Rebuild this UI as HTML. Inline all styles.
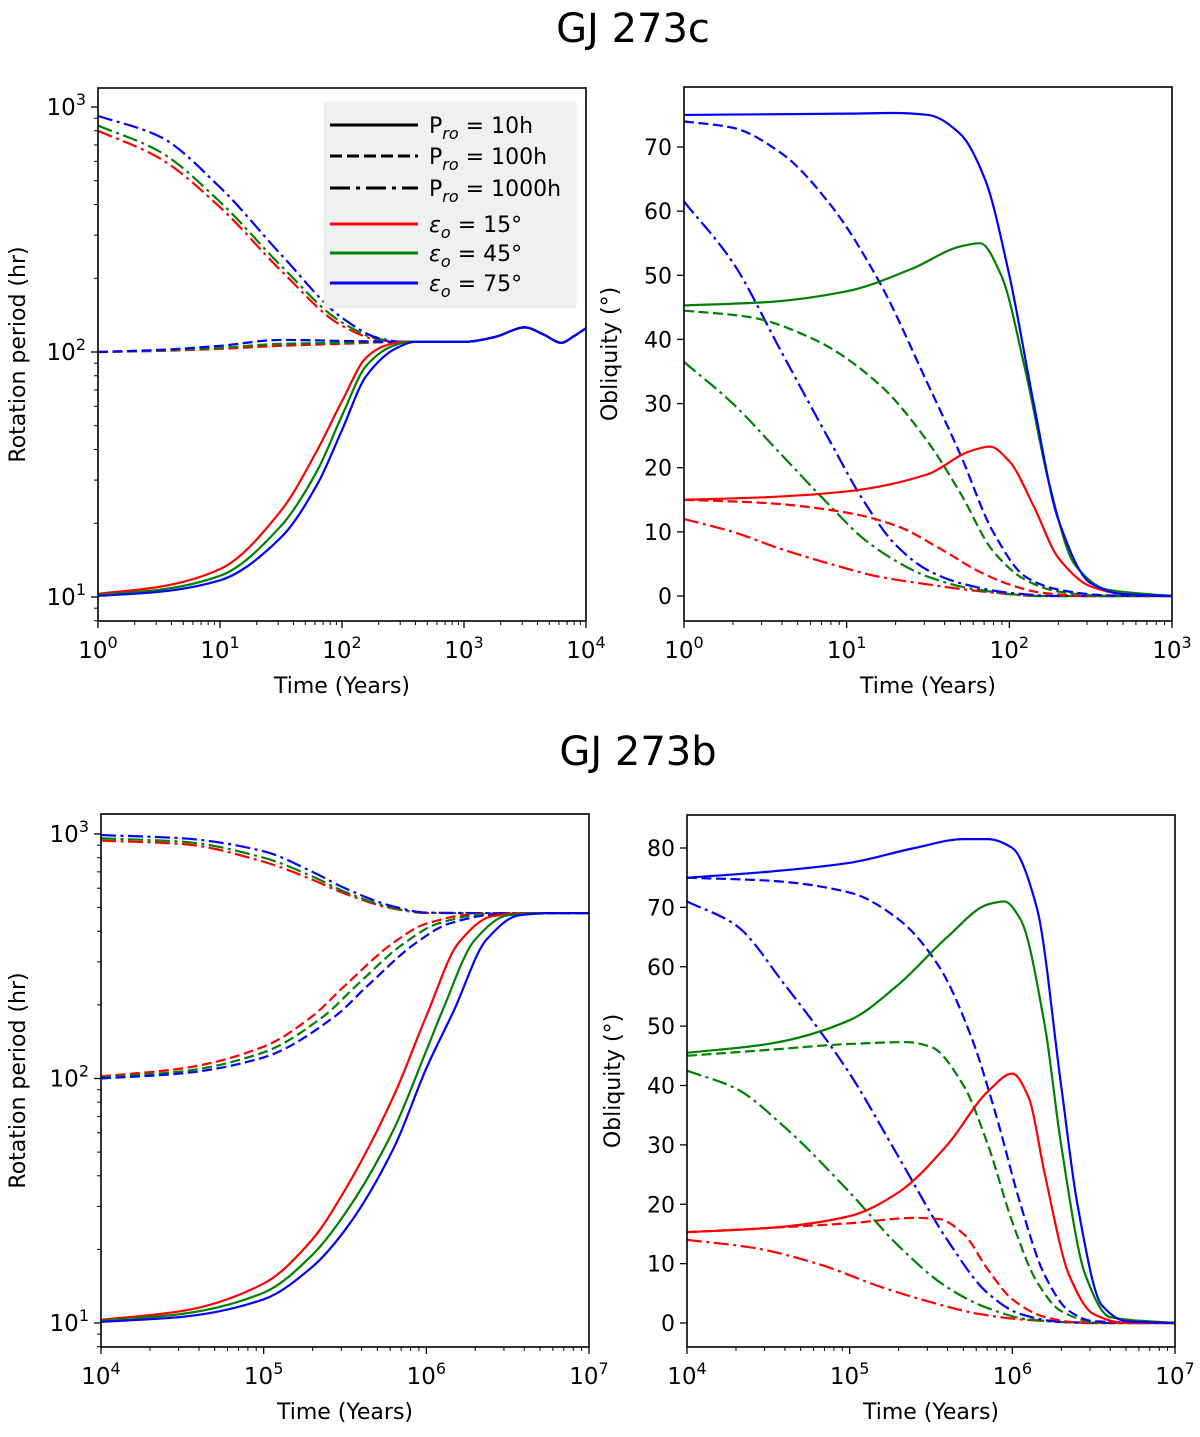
<!DOCTYPE html>
<html><head><meta charset="utf-8"><style>
html,body{margin:0;padding:0;background:#fff;}
svg text{font-family:"DejaVu Sans","Liberation Sans",sans-serif;fill:#000;}
</style></head><body>
<svg id="fig" width="1200" height="1432" viewBox="0 0 1200 1432" xmlns="http://www.w3.org/2000/svg">
<text x="633" y="42" font-size="40" text-anchor="middle">GJ 273c</text>
<text x="638" y="765" font-size="40" text-anchor="middle">GJ 273b</text>
</svg>
<script>
// ---- data: x values are log10(time in years) ----
// Panel A: GJ 273c rotation period (hr)
const aSolidRedX=[0,0.5,1,1.5,1.8,2,2.2,2.35,2.5,3,3.25,3.5,3.65,3.8,3.9,4];
const aSolidRedY=[10.3,11,13,22.5,40,63,95,106,110,110,115,126,118,109,116,125];
const aSolidGreenX=[0,0.5,1,1.5,1.8,2,2.2,2.4,2.55,3,3.25,3.5,3.65,3.8,3.9,4];
const aSolidGreenY=[10.2,10.7,12.2,19.5,33,55,88,105,110,110,115,126,118,109,116,125];
const aSolidBlueX=[0,0.5,1,1.5,1.8,2,2.2,2.45,2.6,3,3.25,3.5,3.65,3.8,3.9,4];
const aSolidBlueY=[10.1,10.5,11.7,17.5,29,48,80,104,110,110,115,126,118,109,116,125];
const aDashRedX=[0,0.5,1,1.5,2,2.5,3,3.25,3.5,3.65,3.8,3.9,4];
const aDashRedY=[100,101,103,106,108,110,110,115,126,118,109,116,125];
const aDashGreenY=[100,101.5,104,108,109,110,110,115,126,118,109,116,125];
const aDashBlueY=[100,102,106,112,111,110,110,115,126,118,109,116,125];
const aDDRedX=[0,0.5,1,1.5,2,2.3,2.5,3,3.25,3.5,3.65,3.8,3.9,4];
const aDDRedY=[800,620,390,215,128,112,110,110,115,126,118,109,116,125];
const aDDGreenY=[840,660,410,225,132,113,110,110,115,126,118,109,116,125];
const aDDBlueY=[920,760,470,250,138,114,110,110,115,126,118,109,116,125];
// Panel B: GJ 273c obliquity (deg)
const bSolidBlueX=[0,0.5,1,1.3,1.5,1.7,1.85,2,2.15,2.3,2.5,2.7,3];
const bSolidBlueY=[75,75.1,75.2,75.3,75,72,65,50,30,12,2,0.3,0];
const bSolidGreenX=[0,0.5,1,1.4,1.7,1.82,1.95,2.1,2.25,2.4,2.6,3];
const bSolidGreenY=[45.3,45.8,47.5,51,54.5,55,50,35,17,5,1,0];
const bSolidRedX=[0,0.5,1,1.5,1.75,1.88,2,2.15,2.3,2.5,2.7,3];
const bSolidRedY=[15,15.4,16.3,19,22.5,23.3,21,14,6,1.5,0.3,0];
const bDashBlueX=[0,0.3,0.6,0.9,1.2,1.5,1.7,1.9,2.1,2.3,2.6,3];
const bDashBlueY=[74,73,69,61,49,33,22,10,3,1,0.1,0];
const bDashGreenX=[0,0.4,0.8,1.2,1.5,1.7,1.9,2.1,2.3,2.6,3];
const bDashGreenY=[44.5,43.5,40,33,24,16,7,2.5,0.7,0,0];
const bDashRedX=[0,0.5,1,1.3,1.6,1.8,2,2.2,2.5,3];
const bDashRedY=[15,14.5,13,11,7,4,1.8,0.5,0,0];
const bDDBlueX=[0,0.3,0.6,0.9,1.1,1.3,1.5,1.7,2,2.3,3];
const bDDBlueY=[61.5,52,38,24,15,8,4,2,0.5,0,0];
const bDDGreenX=[0,0.3,0.6,0.9,1.1,1.3,1.5,1.8,2.2,3];
const bDDGreenY=[36.5,30,22,14,9,5.5,3,1,0,0];
const bDDRedX=[0,0.3,0.6,0.9,1.2,1.5,1.8,2.2,3];
const bDDRedY=[12,10,7.3,5,3,1.8,0.8,0,0];
// Panel C: GJ 273b rotation period (hr)
const cSolidRedX=[4,4.5,5,5.3,5.5,5.8,6,6.2,6.4,6.6,7];
const cSolidRedY=[10.3,11.2,14.5,22,35,85,180,360,460,475,475];
const cSolidGreenX=[4,4.5,5,5.3,5.5,5.8,6,6.1,6.3,6.5,6.7,7];
const cSolidGreenY=[10.2,10.9,13.3,19,28,62,130,190,370,465,475,475];
const cSolidBlueX=[4,4.5,5,5.3,5.5,5.8,6,6.17,6.37,6.57,6.77,7];
const cSolidBlueY=[10.1,10.6,12.5,17,24,52,110,190,370,465,475,475];
const cDashRedX=[4,4.5,5,5.3,5.5,5.8,6,6.3,7];
const cDashRedY=[102,110,135,180,240,360,430,470,475];
const cDashGreenX=[4,4.5,5,5.37,5.57,5.87,6.07,6.37,7];
const cDashGreenY=[101,107,128,180,240,360,430,470,475];
const cDashBlueX=[4,4.5,5,5.44,5.64,5.94,6.14,6.44,7];
const cDashBlueY=[100,105,122,180,240,360,430,470,475];
const cDDX=[4,4.5,5,5.3,5.5,5.8,6,6.3,7];
const cDDRedY=[940,910,770,650,570,495,475,475,475];
const cDDGreenY=[960,930,800,670,580,498,476,475,475];
const cDDBlueY=[990,960,850,700,600,505,477,475,475];
// Panel D: GJ 273b obliquity (deg)
const dSolidBlueX=[4,4.5,5,5.4,5.7,5.85,6,6.15,6.3,6.4,6.55,6.7,7];
const dSolidBlueY=[75,76,77.5,80,81.5,81.5,80,70,40,20,3,0.3,0];
const dSolidGreenX=[4,4.5,5,5.3,5.6,5.85,5.95,6.05,6.2,6.3,6.45,6.6,7];
const dSolidGreenY=[45.5,47,51,57,65,70.5,71,68,50,30,8,1,0];
const dSolidRedX=[4,4.5,5,5.3,5.6,5.85,6,6.1,6.2,6.35,6.5,6.7,7];
const dSolidRedY=[15.3,16,18,22,30,39,42,38,25,8,1.5,0,0];
const dDashBlueX=[4,4.5,5,5.3,5.55,5.75,5.9,6.05,6.2,6.35,6.5,7];
const dDashBlueY=[75,74.5,72.5,68,60,48,35,20,8,2,0.3,0];
const dDashGreenX=[4,4.5,5,5.35,5.5,5.7,5.85,6,6.15,6.3,6.5,7];
const dDashGreenY=[45,46,47,47.3,46.5,40,30,17,7,2,0.2,0];
const dDashRedX=[4,4.5,5,5.4,5.55,5.7,5.85,6,6.2,6.4,7];
const dDashRedY=[15.3,16,16.8,17.7,17.5,15,9,4,1,0.1,0];
const dDDBlueX=[4,4.3,4.6,5,5.3,5.6,5.85,6.05,6.3,6.6,7];
const dDDBlueY=[71,67,57,42,28,14,5,1.5,0.2,0,0];
const dDDGreenX=[4,4.3,4.6,5,5.3,5.6,5.85,6.1,6.5,7];
const dDDGreenY=[42.5,39.5,33,22,13,6,2.5,0.6,0,0];
const dDDRedX=[4,4.4,4.8,5.2,5.5,5.8,6.1,6.5,7];
const dDDRedY=[14,12.7,10,6,3.5,1.5,0.5,0,0];

const NS='http://www.w3.org/2000/svg';
const svg=document.getElementById('fig');
const RED='#ff0000',GREEN='#008000',BLUE='#0000ff';
const DASH='10,4.5',DD='15,4.5,3,4.5';
function mk(tag,attrs,parent){const e=document.createElementNS(NS,tag);for(const k in attrs)e.setAttribute(k,attrs[k]);(parent||svg).appendChild(e);return e;}

function monoPath(pts){
  const n=pts.length;
  const dx=[],m=[];
  for(let i=0;i<n-1;i++){dx.push(pts[i+1][0]-pts[i][0]);m.push((pts[i+1][1]-pts[i][1])/dx[i]);}
  const t=new Array(n);
  t[0]=m[0];t[n-1]=m[n-2];
  for(let i=1;i<n-1;i++){
    if(m[i-1]*m[i]<=0)t[i]=0;
    else{const w1=2*dx[i]+dx[i-1],w2=dx[i]+2*dx[i-1];t[i]=(w1+w2)/(w1/m[i-1]+w2/m[i]);}
  }
  let d='M'+pts[0][0].toFixed(2)+','+pts[0][1].toFixed(2);
  for(let i=0;i<n-1;i++){
    const h=dx[i]/3;
    d+=' C'+(pts[i][0]+h).toFixed(2)+','+(pts[i][1]+t[i]*h).toFixed(2)+' '+(pts[i+1][0]-h).toFixed(2)+','+(pts[i+1][1]-t[i+1]*h).toFixed(2)+' '+pts[i+1][0].toFixed(2)+','+pts[i+1][1].toFixed(2);
  }
  return d;
}

function panel(p){
  const g=mk('g',{});
  
  
  const sx=v=>p.L+(v-p.x0)/(p.x1-p.x0)*(p.R-p.L);
  const sy=p.logY?(v=>p.yRef-(Math.log10(v)-p.yRefLog)*p.dec):(v=>p.y0px-v*p.ppu);
  const cid='clip'+p.id;
  const cp=mk('clipPath',{id:cid},g);mk('rect',{x:p.L,y:p.T,width:p.R-p.L,height:p.B-p.T},cp);
  const lines=mk('g',{'clip-path':'url(#'+cid+')'},g);
  p.series.forEach(s=>{
    const pts=s.x.map((xv,i)=>[sx(xv),sy(s.y[i])]);
    const path=mk('path',{d:monoPath(pts),fill:'none',stroke:s.c,'stroke-width':2.2},lines);
    if(s.dash)path.setAttribute('stroke-dasharray',s.dash);
    
    
  });
  const fr=mk('rect',{x:p.L,y:p.T,width:p.R-p.L,height:p.B-p.T,fill:'none',stroke:'#000','stroke-width':1.6},g);
  
  
  for(let d=p.x0;d<=p.x1;d++){
    const x=sx(d);
    mk('line',{x1:x,y1:p.B,x2:x,y2:p.B+7,stroke:'#000','stroke-width':1.3},g);
    const t=mk('text',{x:x,y:p.B+37,'font-size':23,'text-anchor':'middle'},g);
    
    
    t.appendChild(document.createTextNode('10'));
    const sp=mk('tspan',{dy:-10,'font-size':16},t);sp.textContent=String(d);
    if(d<p.x1)for(let m=2;m<10;m++){const xm=sx(d+Math.log10(m));mk('line',{x1:xm,y1:p.B,x2:xm,y2:p.B+4,stroke:'#000','stroke-width':1},g);}
  }
  if(p.logY){
    for(let d=1;d<=3;d++){
      const y=sy(Math.pow(10,d));
      mk('line',{x1:p.L-7,y1:y,x2:p.L,y2:y,stroke:'#000','stroke-width':1.3},g);
      const t=mk('text',{x:p.L-12,y:y+8,'font-size':23,'text-anchor':'end'},g);
      
      
      t.appendChild(document.createTextNode('10'));
      const sp=mk('tspan',{dy:-10,'font-size':16},t);sp.textContent=String(d);
    }
    for(let d=0;d<=3;d++)for(let m=2;m<10;m++){const v=m*Math.pow(10,d);const y=sy(v);if(y>p.T&&y<p.B)mk('line',{x1:p.L-4,y1:y,x2:p.L,y2:y,stroke:'#000','stroke-width':1},g);}
  } else {
    for(let v=0;v<=p.ymax;v+=10){
      const y=sy(v);
      mk('line',{x1:p.L-7,y1:y,x2:p.L,y2:y,stroke:'#000','stroke-width':1.3},g);
      const t=mk('text',{x:p.L-12,y:y+8,'font-size':22,'text-anchor':'end'},g);
      
      
      t.textContent=String(v);
    }
  }
  const xl=mk('text',{x:(p.L+p.R)/2,y:p.B+72,'font-size':22,'text-anchor':'middle'},g);
  
  
  xl.textContent='Time (Years)';
  const yc=(p.T+p.B)/2;
  const yl=mk('text',{x:p.ylx,y:yc,'font-size':22,'text-anchor':'middle',transform:'rotate(-90 '+p.ylx+' '+yc+')'},g);
  
  
  yl.textContent=p.ylabel;
  return p;
}

panel({id:'a',name:'gj273c-rotation-panel',L:98,R:586,T:88,B:621,x0:0,x1:4,logY:true,yRef:597,yRefLog:1,dec:245,ylx:25,ylabel:'Rotation period (hr)',
 series:[
  {n:'dashdot-red',x:aDDRedX,y:aDDRedY,c:RED,dash:DD},{n:'dashdot-green',x:aDDRedX,y:aDDGreenY,c:GREEN,dash:DD},{n:'dashdot-blue',x:aDDRedX,y:aDDBlueY,c:BLUE,dash:DD},
  {n:'dashed-red',x:aDashRedX,y:aDashRedY,c:RED,dash:DASH},{n:'dashed-green',x:aDashRedX,y:aDashGreenY,c:GREEN,dash:DASH},{n:'dashed-blue',x:aDashRedX,y:aDashBlueY,c:BLUE,dash:DASH},
  {n:'solid-red',x:aSolidRedX,y:aSolidRedY,c:RED},{n:'solid-green',x:aSolidGreenX,y:aSolidGreenY,c:GREEN},{n:'solid-blue',x:aSolidBlueX,y:aSolidBlueY,c:BLUE}]});
panel({id:'b',name:'gj273c-obliquity-panel',L:684,R:1172,T:87,B:621,x0:0,x1:3,logY:false,y0px:596,ppu:(596-147)/70,ymax:70,ylx:617,ylabel:'Obliquity (\u00b0)',
 series:[
  {n:'dashdot-red',x:bDDRedX,y:bDDRedY,c:RED,dash:DD},{n:'dashdot-green',x:bDDGreenX,y:bDDGreenY,c:GREEN,dash:DD},{n:'dashdot-blue',x:bDDBlueX,y:bDDBlueY,c:BLUE,dash:DD},
  {n:'dashed-red',x:bDashRedX,y:bDashRedY,c:RED,dash:DASH},{n:'dashed-green',x:bDashGreenX,y:bDashGreenY,c:GREEN,dash:DASH},{n:'dashed-blue',x:bDashBlueX,y:bDashBlueY,c:BLUE,dash:DASH},
  {n:'solid-red',x:bSolidRedX,y:bSolidRedY,c:RED},{n:'solid-green',x:bSolidGreenX,y:bSolidGreenY,c:GREEN},{n:'solid-blue',x:bSolidBlueX,y:bSolidBlueY,c:BLUE}]});
panel({id:'c',name:'gj273b-rotation-panel',L:101,R:589,T:814,B:1347,x0:4,x1:7,logY:true,yRef:1323,yRefLog:1,dec:244.5,ylx:25,ylabel:'Rotation period (hr)',
 series:[
  {n:'dashdot-red',x:cDDX,y:cDDRedY,c:RED,dash:DD},{n:'dashdot-green',x:cDDX,y:cDDGreenY,c:GREEN,dash:DD},{n:'dashdot-blue',x:cDDX,y:cDDBlueY,c:BLUE,dash:DD},
  {n:'dashed-red',x:cDashRedX,y:cDashRedY,c:RED,dash:DASH},{n:'dashed-green',x:cDashGreenX,y:cDashGreenY,c:GREEN,dash:DASH},{n:'dashed-blue',x:cDashBlueX,y:cDashBlueY,c:BLUE,dash:DASH},
  {n:'solid-red',x:cSolidRedX,y:cSolidRedY,c:RED},{n:'solid-green',x:cSolidGreenX,y:cSolidGreenY,c:GREEN},{n:'solid-blue',x:cSolidBlueX,y:cSolidBlueY,c:BLUE}]});
panel({id:'d',name:'gj273b-obliquity-panel',L:687,R:1175,T:815,B:1347,x0:4,x1:7,logY:false,y0px:1323,ppu:(1323-848)/80,ymax:80,ylx:620,ylabel:'Obliquity (\u00b0)',
 series:[
  {n:'dashdot-red',x:dDDRedX,y:dDDRedY,c:RED,dash:DD},{n:'dashdot-green',x:dDDGreenX,y:dDDGreenY,c:GREEN,dash:DD},{n:'dashdot-blue',x:dDDBlueX,y:dDDBlueY,c:BLUE,dash:DD},
  {n:'dashed-red',x:dDashRedX,y:dDashRedY,c:RED,dash:DASH},{n:'dashed-green',x:dDashGreenX,y:dDashGreenY,c:GREEN,dash:DASH},{n:'dashed-blue',x:dDashBlueX,y:dDashBlueY,c:BLUE,dash:DASH},
  {n:'solid-red',x:dSolidRedX,y:dSolidRedY,c:RED},{n:'solid-green',x:dSolidGreenX,y:dSolidGreenY,c:GREEN},{n:'solid-blue',x:dSolidBlueX,y:dSolidBlueY,c:BLUE}]});

const lg=mk('g',{});


mk('rect',{x:324,y:102,width:252,height:206,fill:'#f0f0f0',stroke:'#f0f0f0'},lg);
const legRows=[
 {c:'#000',dash:null,main:'P',sub:'ro',rest:' = 10h'},
 {c:'#000',dash:'12,5',main:'P',sub:'ro',rest:' = 100h'},
 {c:'#000',dash:'20,6,4,6',main:'P',sub:'ro',rest:' = 1000h'},
 {c:RED,dash:null,main:'\u03b5',sub:'o',rest:' = 15\u00b0'},
 {c:GREEN,dash:null,main:'\u03b5',sub:'o',rest:' = 45\u00b0'},
 {c:BLUE,dash:null,main:'\u03b5',sub:'o',rest:' = 75\u00b0'}];
const legY=[125,156,188,224,253,283];
legRows.forEach((r,i)=>{
  const y=legY[i];
  const ln=mk('line',{x1:330,y1:y,x2:418,y2:y,stroke:r.c,'stroke-width':3},lg);
  if(r.dash)ln.setAttribute('stroke-dasharray',r.dash);
  
  
  const t=mk('text',{x:429,y:y+8,'font-size':22},lg);
  
  
  const m=mk('tspan',{'font-style':r.main==='P'?'normal':'italic'},t);m.textContent=r.main;
  const s=mk('tspan',{dy:6,'font-size':16,'font-style':'italic'},t);s.textContent=r.sub;
  const rr=mk('tspan',{dy:-6},t);rr.textContent=r.rest;
});
</script>
</body></html>
